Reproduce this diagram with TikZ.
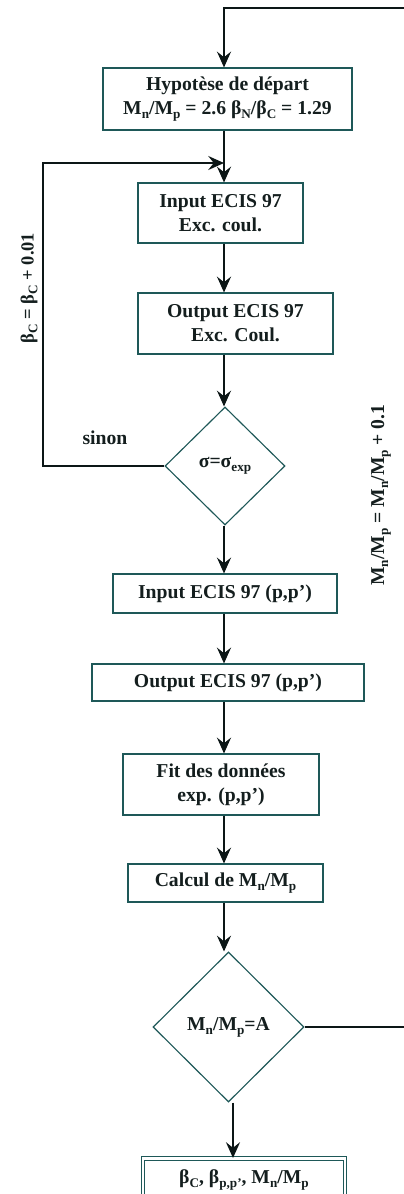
\documentclass[tikz,border=0pt]{standalone}
\usepackage{fontspec}
\setmainfont{Liberation Serif}
\usetikzlibrary{arrows.meta,shapes.geometric}
\definecolor{boxc}{RGB}{30,88,88}
\definecolor{linec}{RGB}{12,22,22}
\definecolor{txtc}{RGB}{20,30,30}
\newcommand{\sbs}[1]{\raisebox{-0.45ex}{\fontsize{7.5}{8}\selectfont #1}}
\begin{document}
\begin{tikzpicture}[x=0.02cm,y=-0.02cm,
  mainfont/.style={font=\fontsize{11.2}{13.6}\selectfont\bfseries},
  box/.style={draw=boxc, line width=0.65pt, fill=white, inner sep=0pt, align=center, text=txtc, mainfont},
  dia/.style={diamond, draw=boxc, line width=0.65pt, fill=white, inner sep=0pt, align=center, text=txtc, mainfont},
  conn/.style={line width=1.1pt, draw=linec, -{Stealth[length=9pt,width=8pt,inset=3.2pt]}},
  lab/.style={text=txtc, inner sep=0pt, mainfont}]
\useasboundingbox (0,0) rectangle (404,1194);

\coordinate (sp) at (224,0);
\coordinate (lx) at (43,0);
\coordinate (j1) at (224,163);
\coordinate (tr) at (406,8);
\coordinate (tl) at (224,8);
\coordinate (fa) at (233,0);

\node[box, minimum width=4.98cm, minimum height=1.24cm] (hyp) at (227.5,99)
  {Hypotèse de départ\\M\sbs{n}/M\sbs{p} = 2.6 β\sbs{N}/β\sbs{C} = 1.29};
\node[box, minimum width=3.30cm, minimum height=1.20cm] (in1) at (220.5,213)
  {Input ECIS 97\\Exc. coul.};
\node[box, minimum width=3.90cm, minimum height=1.22cm] (out1) at (235.5,323.5)
  {Output ECIS 97\\Exc. Coul.};
\node[dia, minimum width=2.40cm, minimum height=2.36cm] (d1) at (225,466)
  {σ=σ\sbs{exp}};
\node[box, minimum width=4.48cm, minimum height=0.78cm] (in2) at (225,593.5)
  {Input ECIS 97 (p,p’)};
\node[box, minimum width=5.44cm, minimum height=0.74cm] (out2) at (228,682.5)
  {Output ECIS 97 (p,p’)};
\node[box, minimum width=3.92cm, minimum height=1.22cm] (fit) at (221,784.5)
  {Fit des données\\exp. (p,p’)};
\node[box, minimum width=3.90cm, minimum height=0.76cm] (calc) at (225.5,883)
  {Calcul de M\sbs{n}/M\sbs{p}};
\node[dia, minimum width=3.02cm, minimum height=3.00cm] (d2) at (228.5,1027)
  {M\sbs{n}/M\sbs{p}=A};
\node[box, double=white, double distance=1.4pt, line width=0.55pt, minimum width=4.04cm, minimum height=0.86cm] (fin) at (244,1180)
  {\raisebox{0.35ex}{β\sbs{C}, β\sbs{p,p’}, M\sbs{n}/M\sbs{p}}};

\node[lab] (sinon) at (105,438) {sinon};
\node[lab, rotate=90, font=\fontsize{10.5}{12}\selectfont\bfseries] (lbl) at (29,288) {β\sbs{C} = β\sbs{C} + 0.01};
\node[lab, rotate=90] (lbr) at (381,495) {M\sbs{n}/M\sbs{p} = M\sbs{n}/M\sbs{p} + 0.1};

\draw[conn] (d2.east) -| (tr) -- (tl) -- (hyp.north -| tl);
\draw[conn] (hyp.south -| sp) -- (in1.north -| sp);
\draw[conn] (d1.west) -- (d1.west -| lx) |- (j1);
\draw[conn] (in1.south -| sp) -- (out1.north -| sp);
\draw[conn] (out1.south -| sp) -- (d1.north -| sp);
\draw[conn] (d1.south -| sp) -- (in2.north -| sp);
\draw[conn] (in2.south -| sp) -- (out2.north -| sp);
\draw[conn] (out2.south -| sp) -- (fit.north -| sp);
\draw[conn] (fit.south -| sp) -- (calc.north -| sp);
\draw[conn] (calc.south -| sp) -- (d2.north -| sp);
\draw[conn] (d2.south -| fa) -- (fin.north -| fa);
\end{tikzpicture}
\end{document}
